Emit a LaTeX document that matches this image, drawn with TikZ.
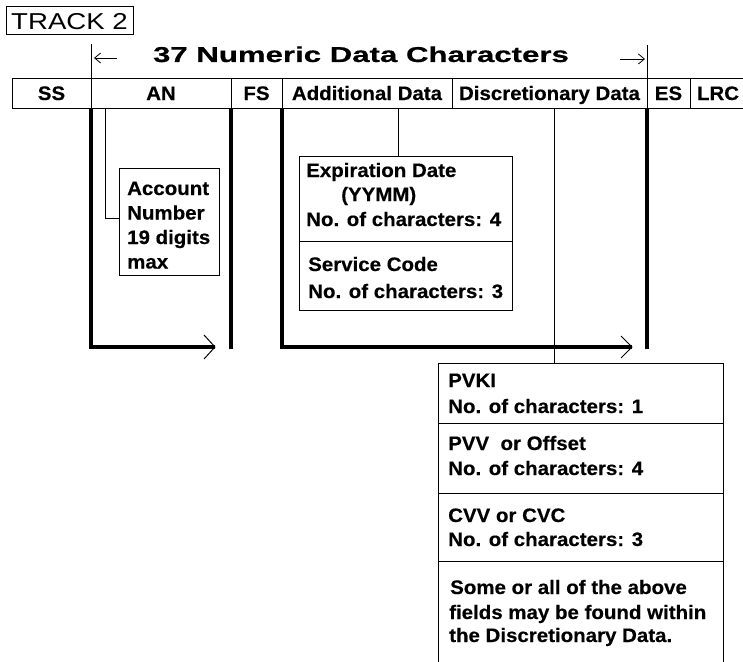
\documentclass[tikz,border=0pt]{standalone}
\usepackage{fontspec}
\usetikzlibrary{arrows.meta}
\newfontfamily\bodyfont[FakeStretch=1.05,BoldFeatures={FakeBold=0.4}]{Liberation Sans}
\newfontfamily\titlefont[FakeStretch=1.45,BoldFeatures={FakeBold=0.6}]{Liberation Sans}
\newfontfamily\trackfont[FakeStretch=1.2]{Liberation Sans}

\begin{document}
\begin{tikzpicture}[x=1pt,y=-1pt,
  thinline/.style={line width=1pt},
  bracket/.style={line width=4pt, line join=miter},
  headarrow/.style={line width=0.8pt, -{Straight Barb[length=6pt,width=10pt]}},
  cell/.style={draw, line width=1pt, inner sep=0pt, outer sep=0pt,
    minimum height=30pt, anchor=north west, text height=14pt, text depth=0pt,
    font=\fontsize{19.5}{24}\bodyfont\bfseries},
  fieldbox/.style={draw, line width=1pt, inner sep=0pt, outer sep=0pt,
    anchor=north west},
  txt/.style={anchor=base west, inner sep=0pt,
    font=\fontsize{19.5}{24}\bodyfont\bfseries}]
\useasboundingbox (0,0) rectangle (743,661);

% title box
\node[draw, line width=1pt, minimum width=127pt, minimum height=28pt,
  inner sep=0pt, outer sep=0pt, text height=16.5pt, text depth=0pt,
  font=\fontsize{23}{27}\trackfont] (track) at (69.5,21) {TRACK 2};

% record layout row
\node[cell, minimum width=79pt]  (ss)  at (12,78)  {SS};
\node[cell, minimum width=140pt] (an)  at (91,78)  {AN};
\node[cell, minimum width=51pt]  (fs)  at (231,78) {FS};
\node[cell, minimum width=170pt] (ad)  at (282,78) {Additional Data};
\node[cell, minimum width=195pt] (de)  at (452,78) {Discretionary Data};
\node[cell, minimum width=43pt]  (es)  at (647,78) {ES};
\node[cell, minimum width=56pt]  (lrc) at (690,78) {LRC};

% span of the numeric data
\draw[thinline] (an.north west) -- ++(0,-34) coordinate (ltop);
\draw[thinline] (de.north east) -- ++(0,-33) coordinate (rtop);
\coordinate (ltail) at (117,58);
\coordinate (lhead) at (94,58);
\coordinate (rtail) at (620,59);
\coordinate (rhead) at (645,59);
\draw[headarrow] (ltail) -- (lhead);
\draw[headarrow] (rtail) -- (rhead);
\node[anchor=base, inner sep=0pt, font=\fontsize{21.5}{25}\titlefont\bfseries]
  (span) at (361,62) {37 Numeric Data Characters};

% field detail boxes
\node[fieldbox, minimum width=100pt, minimum height=107pt] (acct) at (119,168) {};
\node[fieldbox, minimum width=213pt, minimum height=85pt]  (exp)  at (299,156) {};
\node[fieldbox, minimum width=213pt, minimum height=69pt]  (svc)  at (299,241) {};
\node[fieldbox, minimum width=285pt, minimum height=60pt]  (pvki) at (438,363) {};
\node[fieldbox, minimum width=285pt, minimum height=70pt]  (pvv)  at (438,423) {};
\node[fieldbox, minimum width=285pt, minimum height=68pt]  (cvv)  at (438,493) {};
\node[inner sep=0pt, outer sep=0pt, anchor=north west,
  minimum width=285pt, minimum height=106pt] (note) at (438,561) {};
\draw[thinline] (note.south west) -- (note.north west) -- (note.north east) -- (note.south east);

% leaders from the fields to their boxes
\draw[thinline] ([xshift=14pt]an.south west) |- ([yshift=3.5pt]acct.west);
\draw[thinline] ([xshift=-7.5pt]exp.north |- ad.south) -- ([xshift=-7.5pt]exp.north);
\draw[thinline] ([xshift=-26.5pt]pvki.north |- de.south) -- ([xshift=-26.5pt]pvki.north);

% brackets
\draw[bracket] (an.south west) -- ++(0,239) -- ++(124,0) coordinate (tipa);
\draw[thinline] ([shift={(-11,-12)}]tipa) -- (tipa) -- ([shift={(-11,12)}]tipa);
\draw[bracket] (an.south east) -- ++(0,241);
\draw[bracket] (fs.south east) -- ++(0,239) -- ++(350,0) coordinate (tipb);
\draw[thinline] ([shift={(-11,-11)}]tipb) -- (tipb) -- ([shift={(-11,11)}]tipb);
\draw[bracket] (de.south east) -- ++(0,241);

% texts
\node[txt] (acct1) at (127,195)   {Account};
\node[txt] (acct2) at (127,219.5) {Number};
\node[txt] (acct3) at (127,244)   {19 digits};
\node[txt] (acct4) at (127,268.5) {max};

\node[txt] (exp1) at (306,177) {Expiration Date};
\node[txt] (exp2) at (341,201) {(YYMM)};
\node[txt] (exp3) at (306,226) {No. of characters: 4};
\node[txt] (svc1) at (308,271) {Service Code};
\node[txt] (svc2) at (308,298) {No. of characters: 3};

\node[txt] (pvki1) at (448,387) {PVKI};
\node[txt] (pvki2) at (448,413) {No. of characters: 1};
\node[txt] (pvv1)  at (448,450) {PVV\ \ or Offset};
\node[txt] (pvv2)  at (448,475) {No. of characters: 4};
\node[txt] (cvv1)  at (448,522) {CVV or CVC};
\node[txt] (cvv2)  at (448,546) {No. of characters: 3};
\node[txt] (note1) at (450,594) {Some or all of the above};
\node[txt] (note2) at (449,619) {fields may be found within};
\node[txt] (note3) at (449,642) {the Discretionary Data.};
\end{tikzpicture}
\end{document}
